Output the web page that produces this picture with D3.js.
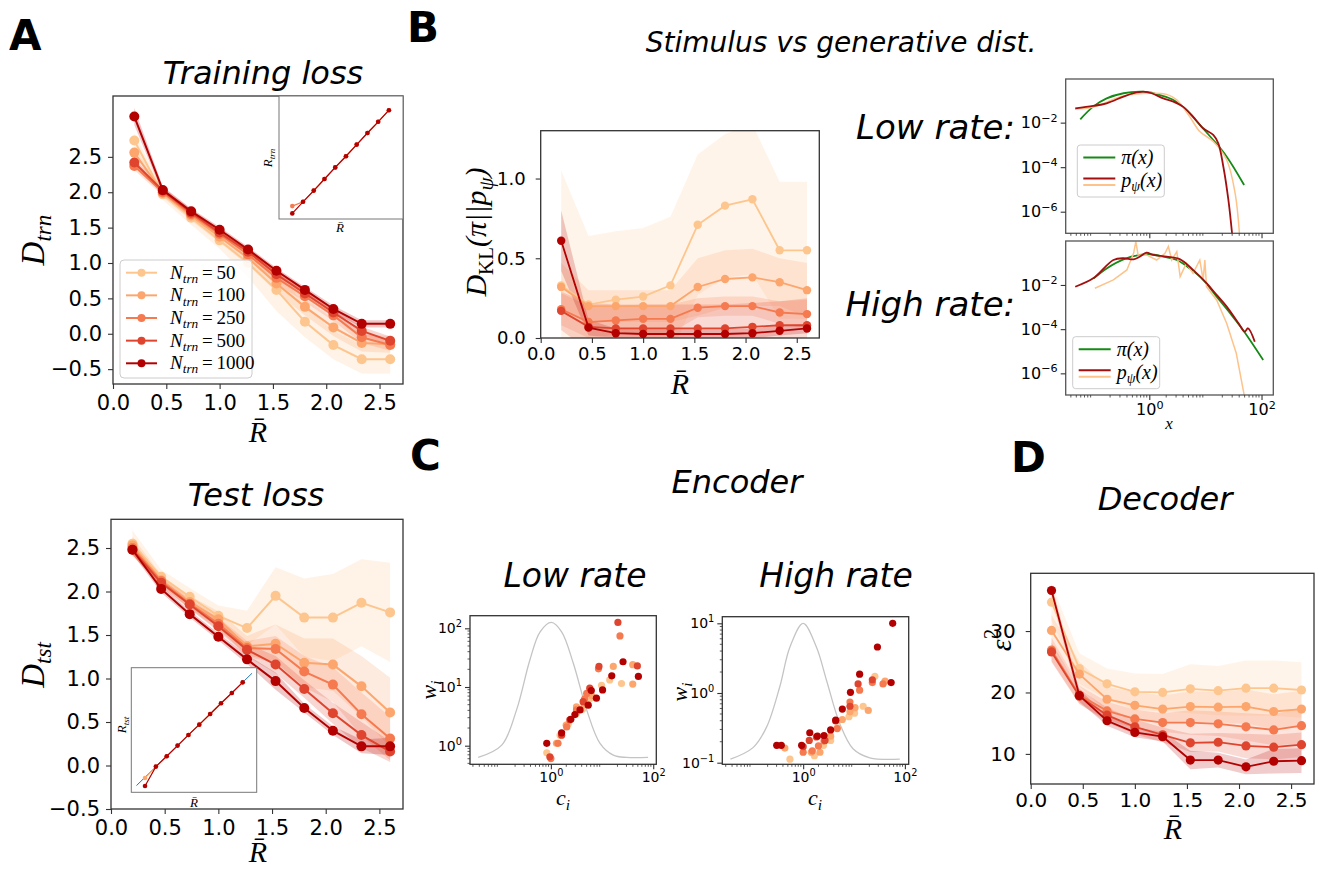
<!DOCTYPE html>
<html>
<head>
<meta charset="utf-8">
<script src="https://cdn.jsdelivr.net/npm/d3@7"></script>
<style>
body { margin: 0; background: #fff; }
text { font-family: "DejaVu Sans", sans-serif; fill: #000; }
.math { font-family: "Liberation Serif", serif; font-style: italic; }
.title { font-style: italic; }
</style>
</head>
<body>
<svg id="fig" width="1321" height="869"></svg>
<script>
// rate values on the x axis of A, B, D
const R = [0.2, 0.467, 0.733, 1.0, 1.267, 1.533, 1.8, 2.067, 2.333, 2.6];
const nTrn = [50, 100, 250, 500, 1000];
const colors = ['#fdc68f', '#fca66d', '#f57a50', '#df452e', '#b30000'];

// A, training loss (rows = N_trn)
const trainLoss = [
  [2.73, 1.97, 1.64, 1.32, 1.00, 0.62, 0.17, -0.16, -0.36, -0.36],
  [2.56, 1.99, 1.67, 1.37, 1.07, 0.71, 0.38, 0.09, -0.13, -0.15],
  [2.37, 2.00, 1.69, 1.41, 1.12, 0.79, 0.53, 0.26, -0.05, -0.16],
  [2.42, 2.02, 1.71, 1.43, 1.16, 0.84, 0.57, 0.30, 0.04, -0.10],
  [3.07, 2.03, 1.73, 1.47, 1.19, 0.89, 0.62, 0.35, 0.14, 0.14]
];
const trainSpread = [
  [0.10, 0.08, 0.10, 0.12, 0.20, 0.30, 0.22, 0.20, 0.20, 0.20],
  [0.08, 0.06, 0.07, 0.08, 0.10, 0.12, 0.12, 0.12, 0.12, 0.12],
  [0.06, 0.05, 0.05, 0.06, 0.07, 0.08, 0.08, 0.08, 0.08, 0.08],
  [0.05, 0.05, 0.05, 0.05, 0.05, 0.06, 0.06, 0.06, 0.06, 0.06],
  [0.12, 0.05, 0.04, 0.04, 0.04, 0.04, 0.04, 0.05, 0.05, 0.05]
];
// inset of A, R_trn vs R
const rTrnLight = [0.37, 0.47, 0.73, 1.0, 1.27, 1.53, 1.8, 2.07, 2.33, 2.6];
const rTrnDark = [0.2, 0.47, 0.73, 1.0, 1.27, 1.53, 1.8, 2.07, 2.33, 2.6];

// A, test loss
const testLoss = [
  [2.55, 2.17, 1.94, 1.72, 1.58, 1.95, 1.70, 1.70, 1.87, 1.76],
  [2.53, 2.13, 1.88, 1.68, 1.37, 1.40, 1.18, 1.16, 0.91, 0.61],
  [2.50, 2.12, 1.86, 1.63, 1.35, 1.34, 1.08, 0.93, 0.59, 0.31],
  [2.48, 2.10, 1.85, 1.60, 1.33, 1.16, 0.88, 0.60, 0.35, 0.16],
  [2.48, 2.03, 1.74, 1.48, 1.22, 0.97, 0.66, 0.40, 0.22, 0.22]
];
const testSpread = [
  [0.15, 0.08, 0.10, 0.12, 0.20, 0.33, 0.45, 0.50, 0.50, 0.57],
  [0.10, 0.06, 0.07, 0.09, 0.12, 0.22, 0.28, 0.30, 0.35, 0.40],
  [0.08, 0.05, 0.06, 0.07, 0.08, 0.15, 0.18, 0.20, 0.25, 0.25],
  [0.06, 0.05, 0.05, 0.06, 0.07, 0.10, 0.10, 0.12, 0.15, 0.12],
  [0.05, 0.04, 0.04, 0.04, 0.05, 0.10, 0.05, 0.05, 0.08, 0.10]
];
const rTstLight = [0.18, 0.47, 0.73, 1.0, 1.27, 1.53, 1.8, 2.07, 2.33, 2.6];
const rTstDark = [-0.02, 0.47, 0.73, 1.0, 1.27, 1.53, 1.8, 2.07, 2.33, 2.6];
const rTstDiag = [-0.01, 2.83];

// B, KL divergence
const klDiv = [
  [0.33, 0.21, 0.24, 0.26, 0.33, 0.71, 0.83, 0.87, 0.55, 0.55],
  [0.32, 0.20, 0.20, 0.20, 0.20, 0.32, 0.37, 0.38, 0.35, 0.30],
  [0.18, 0.10, 0.11, 0.12, 0.12, 0.19, 0.20, 0.20, 0.16, 0.15],
  [0.17, 0.07, 0.06, 0.06, 0.06, 0.06, 0.06, 0.07, 0.08, 0.08],
  [0.61, 0.065, 0.03, 0.025, 0.025, 0.025, 0.025, 0.03, 0.045, 0.06]
];
const klSpread = [
  [0.72, 0.43, 0.43, 0.43, 0.43, 0.44, 0.45, 0.47, 0.43, 0.43],
  [0.15, 0.10, 0.10, 0.10, 0.10, 0.18, 0.18, 0.18, 0.15, 0.17],
  [0.10, 0.10, 0.09, 0.09, 0.09, 0.06, 0.06, 0.06, 0.07, 0.09],
  [0.12, 0.15, 0.15, 0.15, 0.15, 0.15, 0.15, 0.15, 0.15, 0.17],
  [0.19, 0.05, 0.03, 0.03, 0.03, 0.03, 0.03, 0.03, 0.03, 0.03]
];

// B insets, densities as [log10 x, log10 p]
const piLow = [[-1.23,-1.85],[-1.0,-1.28],[-0.76,-0.91],[-0.46,-0.68],[-0.17,-0.61],[0.01,-0.64],[0.19,-0.76],[0.43,-0.98],[0.66,-1.43],[0.9,-2.1],[1.14,-2.78],[1.38,-3.53],[1.69,-4.8]];
const pDarkLow = [[-1.32,-1.36],[-1.0,-1.25],[-0.76,-1.13],[-0.46,-0.83],[-0.28,-0.68],[-0.11,-0.61],[0.04,-0.68],[0.25,-0.91],[0.43,-1.06],[0.6,-1.28],[0.78,-1.73],[0.96,-2.25],[1.14,-2.55],[1.23,-2.93],[1.32,-3.98],[1.41,-5.48],[1.48,-7.1]];
const pLightLow = [[-1.32,-1.4],[-1.0,-1.3],[-0.46,-0.8],[0.01,-0.68],[0.31,-0.73],[0.49,-0.98],[0.72,-1.73],[0.9,-2.4],[1.14,-2.85],[1.38,-3.68],[1.53,-5.18],[1.61,-7.1]];
const piHigh = [[-0.99,-1.7],[-0.76,-1.25],[-0.46,-0.84],[-0.17,-0.64],[0.01,-0.61],[0.25,-0.72],[0.49,-0.87],[0.72,-1.25],[0.96,-1.77],[1.2,-2.53],[1.44,-3.28],[1.67,-4.04],[2.03,-5.4]];
const pDarkHigh = [[-1.32,-2.08],[-1.0,-1.7],[-0.64,-0.87],[-0.46,-0.79],[-0.28,-0.84],[-0.17,-0.72],[-0.05,-0.54],[0.07,-0.64],[0.31,-0.72],[0.55,-0.84],[0.78,-1.32],[1.02,-1.92],[1.2,-2.45],[1.38,-2.98],[1.61,-3.81],[1.7,-4.11],[1.76,-3.96],[1.88,-4.57]];
const pLightHigh = [[-0.97,-2.15],[-0.64,-1.77],[-0.4,-1.32],[-0.28,-0.57],[-0.24,-0.04],[-0.2,-0.64],[-0.05,-0.64],[0.13,-0.87],[0.28,-0.57],[0.34,-0.26],[0.4,-0.87],[0.49,-0.49],[0.55,-1.62],[0.66,-1.02],[0.78,-1.47],[0.9,-0.87],[0.96,-1.77],[0.99,-0.87],[1.02,-2.08],[1.2,-2.68],[1.38,-3.74],[1.55,-5.09],[1.7,-7.1]];

// C, stimulus density (grey) and encoder points as [log10 c, log10 w]
const stimLow = [[-1.42,-0.2],[-0.96,0.01],[-0.67,0.61],[-0.41,1.46],[-0.21,1.94],[0.01,2.1],[0.21,1.94],[0.44,1.4],[0.7,0.61],[0.96,0.04],[1.22,-0.16],[1.48,-0.2],[1.9,-0.2]];
const stimHigh = [[-1.43,-0.95],[-0.98,-0.78],[-0.72,-0.49],[-0.46,0.09],[-0.26,0.66],[0,1.0],[0.26,0.66],[0.46,0.18],[0.72,-0.44],[0.98,-0.8],[1.31,-0.93],[1.9,-0.95]];
const encLow = [
  [[-0.08,-0.12],[0.18,0.18],[0.34,0.37],[0.5,0.55],[0.62,0.62],[0.76,0.8],[0.99,1.03],[1.15,1.12],[1.38,1.06]],
  [[0.11,0.04],[0.3,0.35],[0.5,0.66],[0.65,0.7],[0.8,0.85],[1.22,1.35],[1.6,1.38],[1.6,1.05]],
  [[0,-0.22],[0.14,0.04],[0.31,0.32],[0.5,0.61],[0.66,0.8],[0.7,0.89],[0.93,1.31],[1.35,1.87]],
  [[-0.02,-0.19],[0.21,0.18],[0.37,0.44],[0.63,0.75],[0.76,0.98],[0.94,1.35],[1.31,2.1],[1.69,1.36]],
  [[-0.08,0.04],[0.21,0.22],[0.39,0.45],[0.47,0.53],[0.57,0.61],[0.73,0.69],[0.79,0.94],[0.89,0.81],[1.01,0.95],[1.19,1.19],[1.41,1.43],[1.71,1.18]]
];
const encHigh = [
  [[-0.26,-0.95],[0.22,-0.9],[0.4,-0.75],[0.54,-0.68],[0.67,-0.5],[0.9,-0.34],[1.01,-0.29],[1.18,-0.19],[1.41,0.24]],
  [[-0.36,-0.79],[0.16,-0.85],[0.33,-0.85],[0.54,-0.62],[0.77,-0.38],[0.92,-0.27],[1.02,-0.21],[1.28,-0.25],[1.61,0.17]],
  [[0,-0.85],[0.18,-0.83],[0.3,-0.76],[0.41,-0.69],[0.67,-0.51],[0.92,-0.13],[1.11,0.04],[1.36,0.15],[1.57,0.13]],
  [[0,-0.77],[0.12,-0.68],[0.26,-0.63],[0.43,-0.68],[0.64,-0.4],[0.92,-0.19],[1.08,0.13],[1.36,0.19]],
  [[-0.52,-0.75],[-0.43,-0.75],[-0.03,-0.75],[0.13,-0.57],[0.28,-0.62],[0.41,-0.61],[0.54,-0.53],[0.64,-0.39],[0.77,-0.23],[0.93,0.01],[1.11,0.27],[1.46,0.66],[1.76,1.0],[1.73,0.15]]
];

// D, decoder error
const decErr = [
  [34.7, 23.9, 21.4, 20.1, 20.0, 20.6, 20.3, 20.7, 20.7, 20.4],
  [30.1, 23.0, 18.9, 17.9, 17.3, 17.7, 17.6, 17.7, 16.9, 17.3],
  [26.9, 19.6, 17.0, 15.7, 15.1, 15.1, 14.9, 14.4, 13.9, 14.6],
  [26.6, 19.4, 16.3, 14.4, 13.1, 11.8, 11.9, 11.3, 11.1, 11.5],
  [36.6, 19.5, 15.4, 13.5, 12.8, 9.0, 9.0, 7.9, 8.8, 8.9]
];
const decSpread = [
  [3.0, 2.5, 2.5, 3.0, 3.0, 4.0, 4.0, 4.5, 4.5, 4.5],
  [2.5, 2.0, 2.0, 2.2, 2.2, 2.5, 2.5, 2.8, 2.8, 3.0],
  [2.0, 1.5, 1.5, 1.5, 1.5, 2.0, 2.0, 2.2, 2.5, 3.0],
  [1.5, 1.2, 1.2, 1.2, 1.2, 1.5, 1.5, 2.0, 2.0, 2.0],
  [1.0, 1.0, 0.8, 0.8, 0.8, 1.5, 1.2, 1.2, 2.0, 2.0]
];

const svg = d3.select('#fig');
const defs = svg.append('defs');
let nClip = 0;
const MINUS = '\u2212';

function makeAxes(box, xScale, yScale) {
  const [x0, y0, x1, y1] = box;
  const id = 'clip' + (nClip++);
  defs.append('clipPath').attr('id', id).append('rect')
    .attr('x', x0).attr('y', y0).attr('width', x1 - x0).attr('height', y1 - y0);
  const g = svg.append('g');
  g.append('rect').attr('x', x0).attr('y', y0).attr('width', x1 - x0).attr('height', y1 - y0)
    .attr('fill', '#fff');
  const plot = g.append('g').attr('clip-path', `url(#${id})`);
  return {box, g, plot, x: xScale.range([x0, x1]), y: yScale.range([y1, y0])};
}

function frame(ax, stroke, w) {
  const [x0, y0, x1, y1] = ax.box;
  ax.g.append('rect').attr('x', x0).attr('y', y0).attr('width', x1 - x0).attr('height', y1 - y0)
    .attr('fill', 'none').attr('stroke', stroke || '#333').attr('stroke-width', w || 1.3);
}

function styleAxis(sel, fs) {
  sel.attr('font-family', null).attr('font-size', null);
  sel.select('.domain').remove();
  sel.selectAll('.tick line').attr('stroke', '#333').attr('stroke-width', 1.1);
  sel.selectAll('.tick text').attr('font-size', fs).style('fill', '#000');
}

function linearAxes(ax, xticks, yticks, fs, yfmt, pad) {
  const xa = ax.g.append('g').attr('transform', `translate(0,${ax.box[3]})`)
    .call(d3.axisBottom(ax.x).tickValues(xticks).tickFormat(d3.format('.1f'))
      .tickSize(5).tickPadding(pad[0]).tickSizeOuter(0));
  styleAxis(xa, fs);
  const ya = ax.g.append('g').attr('transform', `translate(${ax.box[0]},0)`)
    .call(d3.axisLeft(ax.y).tickValues(yticks).tickFormat(yfmt)
      .tickSize(5).tickPadding(pad[1]).tickSizeOuter(0));
  styleAxis(ya, fs);
}

function powLabel(sel, fs) {
  sel.selectAll('.tick text').each(function(d) {
    const t = d3.select(this);
    const e = Math.round(Math.log10(d));
    t.text('');
    t.append('tspan').text('10');
    t.append('tspan').attr('dy', -fs * 0.42).attr('font-size', fs * 0.7)
      .text(e < 0 ? MINUS + (-e) : String(e));
  });
}

function minorTicks(ax, axis, decades) {
  const sc = ax[axis];
  const dom = sc.domain();
  decades.forEach(dec => {
    for (let k = 2; k <= 9; k++) {
      const v = k * Math.pow(10, dec);
      if (v < dom[0] || v > dom[1]) continue;
      if (axis === 'y') {
        ax.g.append('line').attr('x1', ax.box[0] - 2.5).attr('x2', ax.box[0])
          .attr('y1', sc(v)).attr('y2', sc(v)).attr('stroke', '#333').attr('stroke-width', 0.8);
      } else {
        ax.g.append('line').attr('y1', ax.box[3]).attr('y2', ax.box[3] + 2.5)
          .attr('x1', sc(v)).attr('x2', sc(v)).attr('stroke', '#333').attr('stroke-width', 0.8);
      }
    }
  });
}

function logAxis(ax, axis, ticks, fs, labels, pad) {
  let gen;
  if (axis === 'x') {
    gen = d3.axisBottom(ax.x).tickValues(ticks).tickSize(5).tickPadding(pad).tickSizeOuter(0);
  } else {
    gen = d3.axisLeft(ax.y).tickValues(ticks).tickSize(5).tickPadding(pad).tickSizeOuter(0);
  }
  const a = ax.g.append('g')
    .attr('transform', axis === 'x' ? `translate(0,${ax.box[3]})` : `translate(${ax.box[0]},0)`)
    .call(gen);
  styleAxis(a, fs);
  if (labels) powLabel(a, fs); else a.selectAll('.tick text').remove();
}

// text with sub/superscripts; parts are [string, kind]
function mathText(parent, x, y, parts, size, opts) {
  opts = opts || {};
  const t = parent.append('text').attr('class', 'math').attr('font-size', size)
    .attr('text-anchor', opts.anchor || 'middle')
    .attr('transform', `translate(${x},${y})` + (opts.rotate ? ' rotate(-90)' : ''));
  let shift = 0;
  parts.forEach(([s, kind]) => {
    kind = kind || '';
    let target = 0;
    if (kind.includes('sub')) target = size * 0.22;
    if (kind.includes('sup')) target = -size * 0.42;
    const ts = t.append('tspan').text(s);
    if (target - shift !== 0) ts.attr('dy', target - shift);
    shift = target;
    if (kind.includes('sub') || kind.includes('sup')) ts.attr('font-size', size * 0.7);
    if (kind.includes('rm')) ts.style('font-style', 'normal');
  });
  return t;
}

function bands(ax, rows, spreads, op) {
  rows.forEach((row, i) => {
    const area = d3.area()
      .x((d, j) => ax.x(R[j]))
      .y0((d, j) => ax.y(d - spreads[i][j]))
      .y1((d, j) => ax.y(d + spreads[i][j]));
    ax.plot.append('path').datum(row).attr('d', area)
      .attr('fill', colors[i]).attr('fill-opacity', op);
  });
}

function series(ax, xs, rows, r, lw, which) {
  rows.forEach((row, i) => {
    const c = which ? which[i] : colors[i];
    const line = d3.line().x((d, j) => ax.x(xs[j])).y(d => ax.y(d));
    ax.plot.append('path').datum(row).attr('d', line)
      .attr('fill', 'none').attr('stroke', c).attr('stroke-width', lw);
    ax.plot.selectAll(null).data(row).enter().append('circle')
      .attr('cx', (d, j) => ax.x(xs[j])).attr('cy', d => ax.y(d))
      .attr('r', r).attr('fill', c);
  });
}

function title(x, y, s, size, anchor) {
  svg.append('text').attr('class', 'title').attr('x', x).attr('y', y)
    .attr('text-anchor', anchor || 'middle').attr('font-size', size).text(s);
}
function letter(x, y, s) {
  svg.append('text').attr('x', x).attr('y', y).attr('font-size', 42)
    .attr('font-weight', 'bold').text(s);
}
const RBAR = 'R\u0304';

// ---------- A: training loss ----------
letter(9, 50, 'A');
title(263, 84, 'Training loss', 32);
const axTrn = makeAxes([113, 96, 403, 384], d3.scaleLinear().domain([0, 2.72]), d3.scaleLinear().domain([-0.71, 3.36]));
bands(axTrn, trainLoss, trainSpread, 0.22);
series(axTrn, R, trainLoss, 5, 2);
frame(axTrn);
linearAxes(axTrn, [0, 0.5, 1, 1.5, 2, 2.5], [-0.5, 0, 0.5, 1, 1.5, 2, 2.5], 21, d3.format('.1f'), [6, 6]);
mathText(svg, 44, 240, [['D'], ['trn', 'sub']], 33, {rotate: true});
mathText(svg, 258, 442, [[RBAR]], 30);

// legend
const leg = svg.append('g');
leg.append('rect').attr('x', 120).attr('y', 260).attr('width', 132).attr('height', 118).attr('rx', 4)
  .attr('fill', '#fff').attr('fill-opacity', 0.85).attr('stroke', '#ccc');
nTrn.forEach((n, i) => {
  const y = 272.7 + i * 22.65;
  leg.append('line').attr('x1', 126).attr('x2', 157).attr('y1', y).attr('y2', y)
    .attr('stroke', colors[i]).attr('stroke-width', 2);
  leg.append('circle').attr('cx', 141.5).attr('cy', y).attr('r', 4).attr('fill', colors[i]);
  mathText(leg, 170, y + 6, [['N'], ['trn', 'sub'], ['\u2009=\u2009' + n, 'rm']], 19, {anchor: 'start'});
});

// inset of training panel
const inTrn = makeAxes([279, 96, 403, 219], d3.scaleLinear().domain([-0.13, 2.95]), d3.scaleLinear().domain([0.07, 2.93]));
series(inTrn, R, [rTrnLight, rTrnDark], 2.3, 1.2, [colors[2], colors[4]]);
frame(inTrn, '#777', 1);
mathText(svg, 272, 158, [['R'], ['trn', 'sub']], 13, {rotate: true});
mathText(svg, 340, 232, [[RBAR]], 13);

// ---------- A: test loss ----------
title(256, 506, 'Test loss', 32);
const axTst = makeAxes([111, 519.3, 403, 809], d3.scaleLinear().domain([0, 2.72]), d3.scaleLinear().domain([-0.5, 2.83]));
bands(axTst, testLoss, testSpread, 0.22);
series(axTst, R, testLoss, 5, 2);
frame(axTst);
linearAxes(axTst, [0, 0.5, 1, 1.5, 2, 2.5], [-0.5, 0, 0.5, 1, 1.5, 2, 2.5], 21, d3.format('.1f'), [6, 6]);
mathText(svg, 44, 665, [['D'], ['tst', 'sub']], 33, {rotate: true});
mathText(svg, 258, 862, [[RBAR]], 30);

const inTst = makeAxes([131.3, 667.7, 256.7, 792.3], d3.scaleLinear().domain([-0.137, 2.944]), d3.scaleLinear().domain([-0.18, 2.97]));
inTst.plot.append('line').attr('x1', inTst.x(rTstDiag[0])).attr('y1', inTst.y(rTstDiag[0]))
  .attr('x2', inTst.x(rTstDiag[1])).attr('y2', inTst.y(rTstDiag[1]))
  .attr('stroke', '#1f77b4').attr('stroke-width', 1);
series(inTst, R, [rTstLight, rTstDark], 2.3, 1.2, [colors[1], colors[4]]);
frame(inTst, '#777', 1);
mathText(svg, 126, 725, [['R'], ['tst', 'sub']], 13, {rotate: true});
mathText(svg, 194, 807, [[RBAR]], 13);

// ---------- B ----------
letter(407, 42, 'B');
title(841, 52, 'Stimulus vs generative dist.', 28);
const axKL = makeAxes([540.7, 130.7, 819.3, 338], d3.scaleLinear().domain([0, 2.72]), d3.scaleLinear().domain([0, 1.3]));
bands(axKL, klDiv, klSpread, 0.2);
series(axKL, R, klDiv, 4.2, 1.8);
frame(axKL);
linearAxes(axKL, [0, 0.5, 1, 1.5, 2, 2.5], [0, 0.5, 1], 18, d3.format('.1f'), [4, 10]);
mathText(svg, 486, 232, [['D'], ['KL', 'sub rm'], ['(\u03c0||p'], ['\u03c8', 'sub'], [')']], 30, {rotate: true});
mathText(svg, 680, 394, [[RBAR]], 30);

title(1015, 139, 'Low rate:', 34, 'end');
title(1015, 316, 'High rate:', 34, 'end');

const lx = d3.scaleLog().domain([Math.pow(10, -1.49), Math.pow(10, 2.21)]);
const lineLog = ax => d3.line().curve(d3.curveCatmullRom)
  .x(d => ax.x(Math.pow(10, d[0]))).y(d => ax.y(Math.pow(10, d[1])));
const green = '#168a16', darkRed = '#a30f0f', lightOr = '#fdc38b';

function densityInset(box, yDom, curves, showX, legBox) {
  const ax = makeAxes(box, lx.copy(), d3.scaleLog().domain(yDom));
  curves.forEach(([pts, c, w, curve]) => {
    const ln = lineLog(ax);
    if (curve) ln.curve(curve);
    ax.plot.append('path').datum(pts).attr('d', ln)
      .attr('fill', 'none').attr('stroke', c).attr('stroke-width', w);
  });
  frame(ax, '#555', 1.3);
  logAxis(ax, 'y', [1e-6, 1e-4, 1e-2], 16, true, 3);
  logAxis(ax, 'x', [1, 100], 16, showX, 4);
  minorTicks(ax, 'x', [-2, -1, 0, 1, 2]);
  const [bx, by, bw, bh] = legBox;
  const lg = svg.append('g');
  lg.append('rect').attr('x', bx).attr('y', by).attr('width', bw).attr('height', bh).attr('rx', 3)
    .attr('fill', '#fff').attr('fill-opacity', 0.85).attr('stroke', '#ccc');
  lg.append('line').attr('x1', bx + 6).attr('x2', bx + 38).attr('y1', by + 12.5).attr('y2', by + 12.5)
    .attr('stroke', green).attr('stroke-width', 2);
  lg.append('line').attr('x1', bx + 6).attr('x2', bx + 38).attr('y1', by + 33.5).attr('y2', by + 33.5)
    .attr('stroke', darkRed).attr('stroke-width', 2);
  lg.append('line').attr('x1', bx + 6).attr('x2', bx + 38).attr('y1', by + 40).attr('y2', by + 40)
    .attr('stroke', lightOr).attr('stroke-width', 2);
  mathText(lg, bx + 44, by + 19, [['\u03c0(x)']], 20, {anchor: 'start'});
  mathText(lg, bx + 44, by + 42, [['p'], ['\u03c8', 'sub'], ['(x)']], 20, {anchor: 'start'});
  return ax;
}
densityInset([1065.7, 79, 1273.3, 233.3], [Math.pow(10, -6.97), Math.pow(10, -0.04)],
  [[piLow, green, 1.8], [pLightLow, lightOr, 1.5], [pDarkLow, darkRed, 1.8]], false, [1077.3, 145, 87, 52]);
densityInset([1065.7, 241, 1273.3, 395], [Math.pow(10, -6.98), Math.pow(10, -0.01)],
  [[piHigh, green, 1.8], [pLightHigh, lightOr, 1.5, d3.curveLinear], [pDarkHigh, darkRed, 1.8]], true, [1072.7, 336.7, 87, 52]);
mathText(svg, 1169, 429, [['x']], 17);

// ---------- C ----------
letter(410, 470, 'C');
title(737, 493, 'Encoder', 32);
title(575, 587, 'Low rate', 33);
title(836, 587, 'High rate', 33);

function encoderPanel(box, xDom, yDom, stim, pts, yTicks, yDecades) {
  const ax = makeAxes(box, d3.scaleLog().domain(xDom), d3.scaleLog().domain(yDom));
  ax.plot.append('path').datum(stim).attr('d', lineLog(ax))
    .attr('fill', 'none').attr('stroke', '#c4c4c4').attr('stroke-width', 1.3);
  pts.forEach((set, i) => {
    ax.plot.selectAll(null).data(set).enter().append('circle')
      .attr('cx', d => ax.x(Math.pow(10, d[0]))).attr('cy', d => ax.y(Math.pow(10, d[1])))
      .attr('r', 3.6).attr('fill', colors[i]);
  });
  frame(ax, '#333', 1.3);
  logAxis(ax, 'x', [1, 100], 14, true, 3);
  logAxis(ax, 'y', yTicks, 14, true, 3);
  minorTicks(ax, 'y', yDecades);
  minorTicks(ax, 'x', [-2, -1, 0, 1]);
  return ax;
}
encoderPanel([470, 615.7, 656.3, 764.3], [Math.pow(10, -1.58), Math.pow(10, 2.06)],
  [Math.pow(10, -0.317), Math.pow(10, 2.215)], stimLow, encLow, [1, 10, 100], [-1, 0, 1, 2]);
encoderPanel([722.3, 616.7, 908.7, 764.3], [Math.pow(10, -1.59), Math.pow(10, 2.075)],
  [Math.pow(10, -1.023), Math.pow(10, 1.095)], stimHigh, encHigh, [0.1, 1, 10], [-2, -1, 0, 1]);
mathText(svg, 436, 690, [['w'], ['i', 'sub']], 22, {rotate: true});
mathText(svg, 687, 692, [['w'], ['i', 'sub']], 22, {rotate: true});
mathText(svg, 563, 805, [['c'], ['i', 'sub']], 22);
mathText(svg, 815, 805, [['c'], ['i', 'sub']], 22);

// ---------- D ----------
letter(1011, 472, 'D');
title(1165, 510, 'Decoder', 32);
const axDec = makeAxes([1030.7, 573.3, 1314, 784], d3.scaleLinear().domain([0, 2.72]), d3.scaleLinear().domain([5.1, 39.4]));
bands(axDec, decErr, decSpread, 0.2);
series(axDec, R, decErr, 4.6, 1.8);
frame(axDec);
linearAxes(axDec, [0, 0.5, 1, 1.5, 2, 2.5], [10, 20, 30], 20, d3.format('d'), [4, 10]);
mathText(svg, 1011, 640, [['\u03b5'], ['2', 'sup rm']], 30, {rotate: true});
mathText(svg, 1173, 839, [[RBAR]], 30);
</script>
</body>
</html>
